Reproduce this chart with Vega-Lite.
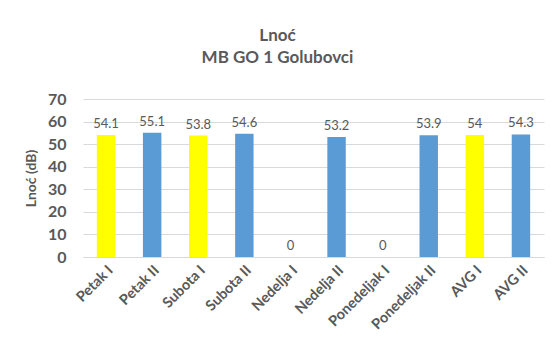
{
  "$schema": "https://vega.github.io/schema/vega-lite/v6.json",
  "autosize": "none",
  "width": 461,
  "height": 158,
  "padding": {"left": 83, "top": 99, "right": 11, "bottom": 94},
  "background": "white",
  "title": {
    "text": ["Lnoć", "MB GO 1 Golubovci"],
    "font": "Lato",
    "fontSize": 17,
    "fontWeight": "bold",
    "color": "#595959",
    "anchor": "middle",
    "dx": -36,
    "offset": 24,
    "lineHeight": 22
  },
  "data": {
    "values": [
      {"day": "Petak I", "value": 54.1, "grp": "I"},
      {"day": "Petak II", "value": 55.1, "grp": "II"},
      {"day": "Subota I", "value": 53.8, "grp": "I"},
      {"day": "Subota II", "value": 54.6, "grp": "II"},
      {"day": "Nedelja I", "value": 0, "grp": "I"},
      {"day": "Nedelja II", "value": 53.2, "grp": "II"},
      {"day": "Ponedeljak I", "value": 0, "grp": "I"},
      {"day": "Ponedeljak II", "value": 53.9, "grp": "II"},
      {"day": "AVG I", "value": 54, "grp": "I"},
      {"day": "AVG II", "value": 54.3, "grp": "II"}
    ]
  },
  "encoding": {
    "x": {
      "field": "day",
      "type": "nominal",
      "sort": null,
      "scale": {"paddingInner": 0.6, "paddingOuter": 0.3},
      "axis": {
        "title": null,
        "labelAngle": -45,
        "labelFont": "Lato",
        "labelFontSize": 14.5,
        "labelFontWeight": "bold",
        "labelColor": "#595959",
        "ticks": false,
        "domainColor": "#d9d9d9",
        "labelPadding": 6
      }
    },
    "y": {
      "field": "value",
      "type": "quantitative",
      "scale": {"domain": [0, 70]},
      "axis": {
        "title": "Lnoć (dB)",
        "titleFont": "Lato",
        "titleFontSize": 14,
        "titleFontWeight": "bold",
        "titleColor": "#595959",
        "titlePadding": 9,
        "values": [0, 10, 20, 30, 40, 50, 60, 70],
        "labelFont": "Lato",
        "labelFontSize": 16,
        "labelFontWeight": "bold",
        "labelColor": "#595959",
        "labelPadding": 17,
        "ticks": false,
        "domain": false,
        "gridColor": "#d9d9d9"
      }
    }
  },
  "layer": [
    {
      "mark": {"type": "bar"},
      "encoding": {
        "color": {
          "field": "grp",
          "type": "nominal",
          "scale": {"domain": ["I", "II"], "range": ["#FFFF00", "#5B9BD5"]},
          "legend": null
        }
      }
    },
    {
      "mark": {"type": "text", "dy": -11, "font": "Lato", "fontSize": 13, "color": "#595959"},
      "encoding": {"text": {"field": "value", "type": "quantitative"}}
    }
  ],
  "config": {"view": {"stroke": null}}
}
